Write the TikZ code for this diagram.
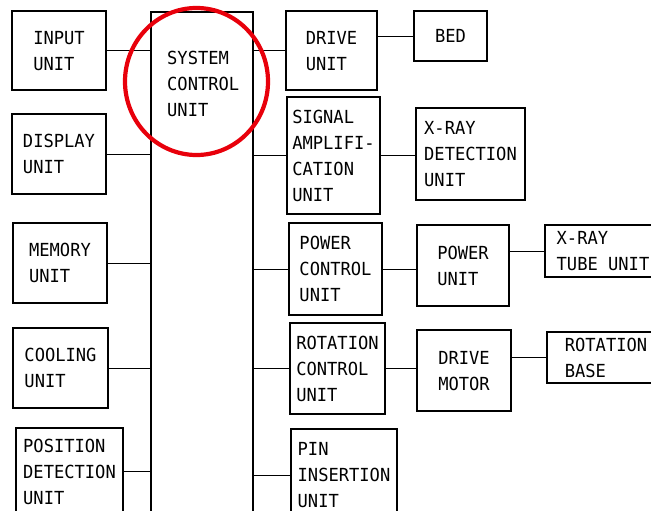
\documentclass[tikz,border=0pt]{standalone}
\usepackage{fontspec}
\usepackage{tikz}
\usetikzlibrary{positioning}
\newfontfamily\unitfont{DejaVu Sans Mono}[FakeStretch=0.95]
\definecolor{markcolor}{HTML}{E8000B}

\begin{document}
\begin{tikzpicture}[x=1pt, y=-1pt,
    unit/.style={draw, line width=1.1pt, inner sep=0pt, outer sep=0pt, anchor=north west,
        align=left, text depth=0pt, font={\unitfont\fontsize{18}{26}\selectfont}},
    unitlabel/.style={inner sep=0pt, anchor=north west, align=left,
        font={\unitfont\fontsize{18}{26}\selectfont}},
    sz/.style 2 args={minimum width=#1pt, minimum height=#2pt},
    link/.style={line width=0.8pt}]
    \useasboundingbox (0,0) rectangle (651,511);

    % System control unit (central bar)
    \node[unit, sz={102}{520}] (scu) at (151,12) {};
    \node[unitlabel] (scut) at (167,51) {SYSTEM\\CONTROL\\UNIT};

    % Left column
    \node[unit, sz={94}{79}] (inp) at (12,11) {INPUT\\UNIT};
    \node[unit, sz={94}{80}] (disp) at (12,114) {DISPLAY\\UNIT};
    \node[unit, sz={94}{80}] (mem) at (13,223) {MEMORY\\UNIT};
    \node[unit, sz={95}{80}] (cool) at (13,328) {COOLING\\UNIT};
    \node[unit, sz={107}{87}] (posd) at (16,428) {POSITION\\DETECTION\\UNIT};

    % Right column
    \node[unit, sz={91}{79}] (drv) at (286,11) {DRIVE\\UNIT};
    \node[unit, sz={93}{117}] (sig) at (287,97) {SIGNAL\\AMPLIFI-\\CATION\\UNIT};
    \node[unit, sz={93}{92}] (pcu) at (289,223) {POWER\\CONTROL\\UNIT};
    \node[unit, sz={95}{91}] (rcu) at (290,323) {ROTATION\\CONTROL\\UNIT};
    \node[unit, sz={106}{92}] (pin) at (291,429) {PIN\\INSERTION\\UNIT};

    % Outer units
    \node[unit, sz={73}{50}] (bed) at (414,11) {BED};
    \node[unit, sz={109}{92}] (xdet) at (416,108) {X-RAY\\DETECTION\\UNIT};
    \node[unit, sz={92}{81}] (pu) at (417,225) {POWER\\UNIT};
    \node[unit, sz={94}{81}] (dm) at (417,330) {DRIVE\\MOTOR};
    \node[unit, sz={116}{52}] (xtube) at (545,225) {X-RAY\\TUBE UNIT};
    \node[unit, sz={118}{51}] (rbase) at (547,332) {ROTATION\\BASE};

    % Connectors
    \foreach \n in {inp,disp,mem,cool,posd}
        \draw[link] (\n.east) -- (\n.east -| scu.west);
    \foreach \n in {drv,sig,pcu,rcu,pin}
        \draw[link] (scu.east |- \n.west) -- (\n.west);
    \draw[link] (drv.east |- bed.west) -- (bed.west);
    \draw[link] (sig.east) -- (sig.east -| xdet.west);
    \draw[link] (pcu.east) -- (pcu.east -| pu.west);
    \draw[link] (pu.east |- xtube.west) -- (xtube.west);
    \draw[link] (rcu.east) -- (rcu.east -| dm.west);
    \draw[link] (dm.east |- rbase.west) -- (rbase.west);

    % Red mark
    \draw[markcolor, line width=4.2pt] (196.5,81.5) circle[x radius=71.5pt, y radius=73.5pt];
\end{tikzpicture}
\end{document}
